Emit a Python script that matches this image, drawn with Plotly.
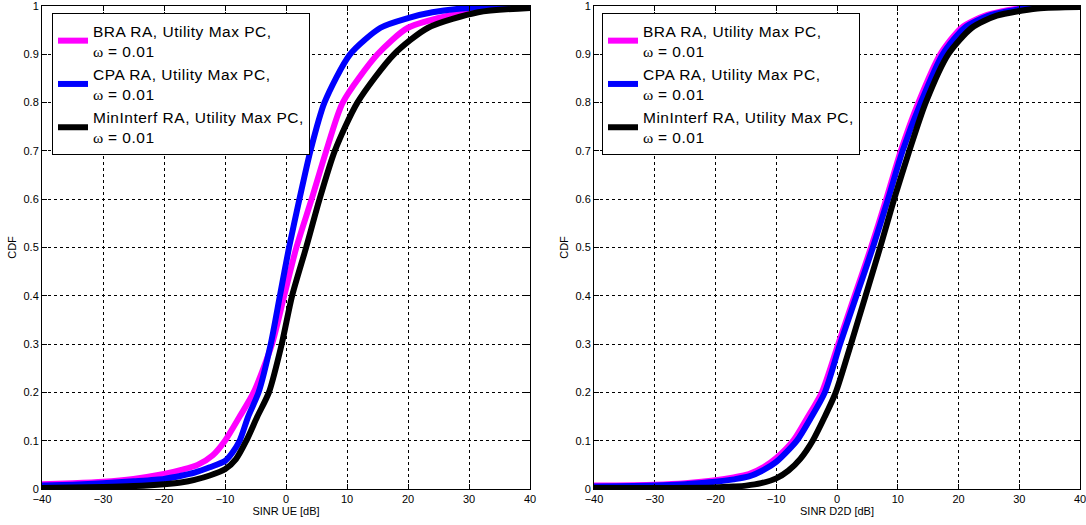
import plotly.graph_objects as go

# ---- Data ----
ticks_x = [-40, -30, -20, -10, 0, 10, 20, 30, 40]
ticks_y = [0, 0.1, 0.2, 0.3, 0.4, 0.5, 0.6, 0.7, 0.8, 0.9, 1]
tick_y_text = ["0", "0.1", "0.2", "0.3", "0.4", "0.5", "0.6", "0.7", "0.8", "0.9", "1"]

names = ["BRA RA, Utility Max PC,", "CPA RA, Utility Max PC,", "MinInterf RA, Utility Max PC,"]
colors = ["#ff00ff", "#0000ff", "#000000"]

# Left panel: SINR UE
ue_bra_x = [-40, -35, -30, -25, -20, -17, -14.5, -12, -10, -7.6, -5.3, -2.3, -0.3, 1.7, 4.2, 6.6, 9.3, 15, 20, 27.7, 33, 40]
ue_bra_y = [0.010, 0.012, 0.015, 0.021, 0.031, 0.040, 0.050, 0.070, 0.10, 0.15, 0.20, 0.30, 0.40, 0.50, 0.60, 0.70, 0.80, 0.90, 0.955, 0.983, 0.994, 0.999]
ue_cpa_x = [-40, -35, -30, -25, -20, -17, -15, -12.5, -10, -8.8, -7.6, -6.2, -4.5, -2.5, -1.0, 0.5, 2.2, 4.0, 6.3, 10.5, 15.5, 20, 24, 30, 40]
ue_cpa_y = [0.007, 0.009, 0.012, 0.016, 0.021, 0.028, 0.034, 0.045, 0.058, 0.075, 0.10, 0.15, 0.20, 0.30, 0.40, 0.50, 0.60, 0.70, 0.80, 0.90, 0.955, 0.975, 0.987, 0.996, 1.0]
ue_min_x = [-40, -30, -25, -20, -17, -15, -12.5, -10, -8.2, -6.5, -4.7, -2.8, -0.7, 1.0, 3.3, 5.5, 8.0, 11.7, 17.7, 23.3, 31.5, 40]
ue_min_y = [0.002, 0.004, 0.006, 0.010, 0.014, 0.019, 0.028, 0.041, 0.062, 0.10, 0.15, 0.20, 0.30, 0.40, 0.50, 0.60, 0.70, 0.80, 0.90, 0.955, 0.987, 0.996]

# Right panel: SINR D2D
d2d_bra_x = [-40, -30, -25, -20, -17, -14.5, -12, -10, -7.2, -5, -2.5, 0.2, 2.9, 5.6, 8.1, 10.5, 13.4, 17.0, 20.5, 24.4, 30, 40]
d2d_bra_y = [0.007, 0.009, 0.012, 0.018, 0.024, 0.031, 0.046, 0.064, 0.10, 0.145, 0.20, 0.30, 0.40, 0.50, 0.60, 0.70, 0.80, 0.90, 0.955, 0.98, 0.995, 1.0]
d2d_cpa_x = [-40, -30, -25, -20, -17, -14.5, -12, -10, -6.6, -4.4, -2.0, 0.5, 3.2, 5.9, 8.4, 10.8, 13.8, 17.4, 21.0, 25.0, 31, 40]
d2d_cpa_y = [0.005, 0.007, 0.010, 0.015, 0.020, 0.026, 0.040, 0.056, 0.10, 0.145, 0.20, 0.30, 0.40, 0.50, 0.60, 0.70, 0.80, 0.90, 0.955, 0.98, 0.995, 1.0]
d2d_min_x = [-40, -30, -20, -17, -15, -12.5, -10, -8, -6, -4, -2, -0.2, 2.3, 4.7, 7.1, 9.4, 11.9, 14.6, 18.3, 22.2, 26.3, 33, 40]
d2d_min_y = [0.002, 0.002, 0.003, 0.005, 0.007, 0.012, 0.022, 0.038, 0.063, 0.10, 0.15, 0.20, 0.30, 0.40, 0.50, 0.60, 0.70, 0.80, 0.90, 0.955, 0.98, 0.995, 0.998]

W, H = 1086, 525
FONT = "Liberation Sans, Arial, sans-serif"

fig = go.Figure()

def label(n):
    return ("<span style='letter-spacing:0.5px'>" + n + "</span><br>"
            "<span style='font-family:Liberation Serif, Times New Roman, serif'>ω</span>"
            "<span style='letter-spacing:0.5px'> = 0.01</span>")

left = [(ue_bra_x, ue_bra_y), (ue_cpa_x, ue_cpa_y), (ue_min_x, ue_min_y)]
right = [(d2d_bra_x, d2d_bra_y), (d2d_cpa_x, d2d_cpa_y), (d2d_min_x, d2d_min_y)]

for i, (x, y) in enumerate(left):
    fig.add_trace(go.Scatter(x=x, y=y, mode="lines", name=label(names[i]),
                             line=dict(color=colors[i], width=6, shape="spline", smoothing=0.7),
                             xaxis="x", yaxis="y", legend="legend"))
for i, (x, y) in enumerate(right):
    fig.add_trace(go.Scatter(x=x, y=y, mode="lines", name=label(names[i]),
                             line=dict(color=colors[i], width=6, shape="spline", smoothing=0.7),
                             xaxis="x2", yaxis="y2", legend="legend2"))

ax_common = dict(range=[-40, 40], tickvals=ticks_x, ticks="inside", ticklen=5, tickcolor="black",
                 showline=True, linecolor="black", linewidth=1, mirror="ticks",
                 showgrid=True, gridcolor="black", griddash="dot", gridwidth=1,
                 zeroline=False, automargin=False, ticklabeloverflow="allow",
                 tickfont=dict(size=11, color="black", family=FONT))
ay_common = dict(range=[0, 1], tickvals=ticks_y, ticktext=tick_y_text, ticks="inside", ticklen=5,
                 tickcolor="black", showline=True, linecolor="black", linewidth=1, mirror="ticks",
                 showgrid=True, gridcolor="black", griddash="dot", gridwidth=1,
                 zeroline=False, automargin=False, ticklabeloverflow="allow",
                 tickfont=dict(size=11, color="black", family=FONT))

ytop = 1 - 6 / H
ybot = 1 - 489 / H

leg_common = dict(bgcolor="white", bordercolor="black", borderwidth=1,
                  font=dict(size=15.5, color="black", family=FONT),
                  xanchor="left", yanchor="top", itemwidth=30, tracegroupgap=0)

fig.update_layout(
    width=W, height=H,
    margin=dict(l=0, r=0, t=0, b=0, autoexpand=False),
    paper_bgcolor="white", plot_bgcolor="white",
    font=dict(family=FONT, color="black"),
    xaxis=dict(domain=[42 / W, 530 / W], anchor="y",
               title=dict(text="SINR UE [dB]", font=dict(size=11), standoff=0), **ax_common),
    yaxis=dict(domain=[ybot, ytop], anchor="x",
               title=dict(text="CDF", font=dict(size=11), standoff=4), **ay_common),
    xaxis2=dict(domain=[594 / W, 1080 / W], anchor="y2",
                title=dict(text="SINR D2D [dB]", font=dict(size=11), standoff=0), **ax_common),
    yaxis2=dict(domain=[ybot, ytop], anchor="x2",
                title=dict(text="CDF", font=dict(size=11), standoff=4), **ay_common),
    legend=dict(x=52 / W, y=1 - 13 / H, **leg_common),
    legend2=dict(x=602 / W, y=1 - 13 / H, **leg_common),
    showlegend=True,
)

fig.write_html("out.html", config={"displayModeBar": False},
               post_script="document.body.style.margin='0';document.body.style.overflow='hidden';")
